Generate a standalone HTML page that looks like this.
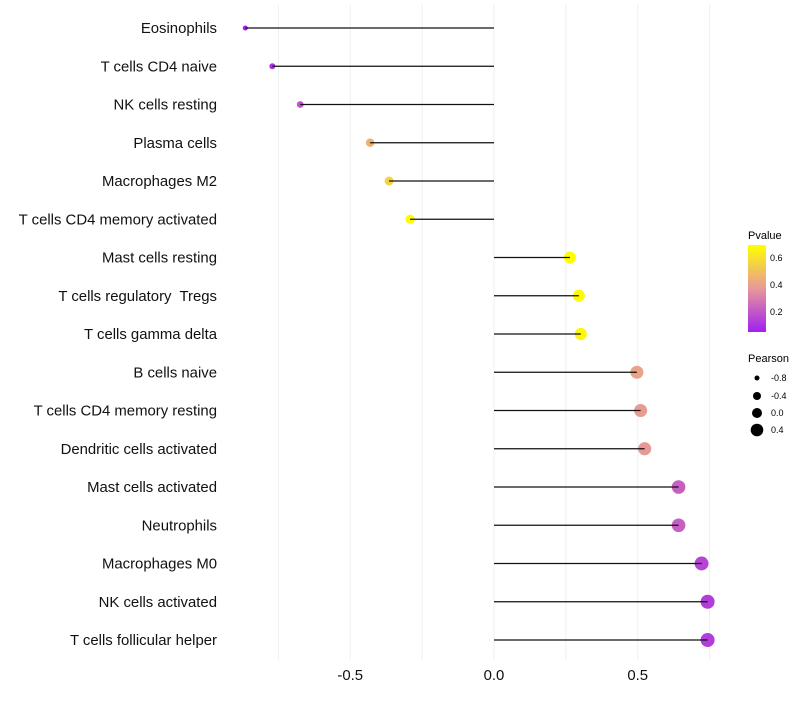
<!DOCTYPE html>
<html><head><meta charset="utf-8"><style>
body{margin:0;background:#fff;font-family:"Liberation Sans",sans-serif}
</style></head><body>
<svg id="chart" width="800" height="700" xmlns="http://www.w3.org/2000/svg" font-family="Liberation Sans, sans-serif">
<g id="grid"></g>
<g id="marks"></g>
<g id="ylabels"></g>
<g id="xlabels"></g>
<g>
<defs><linearGradient id="pg" x1="0" y1="1" x2="0" y2="0">
<stop offset="0" stop-color="#a020f0"/><stop offset="0.5" stop-color="#e8989a"/><stop offset="1" stop-color="#ffff00"/></linearGradient></defs>
<text x="748" y="239" font-size="11">Pvalue</text>
<rect x="748" y="245" width="18" height="87" fill="url(#pg)"/>
<text x="770" y="261" font-size="9">0.6</text>
<text x="770" y="288" font-size="9">0.4</text>
<text x="770" y="315" font-size="9">0.2</text>
<text x="748" y="362" font-size="11">Pearson</text>
<circle cx="757" cy="378" r="2.5" fill="#000"/>
<circle cx="757" cy="396" r="4" fill="#000"/>
<circle cx="757" cy="413" r="5" fill="#000"/>
<circle cx="757" cy="430" r="6.3" fill="#000"/>
<text x="771" y="381" font-size="9">-0.8</text>
<text x="771" y="399" font-size="9">-0.4</text>
<text x="771" y="416" font-size="9">0.0</text>
<text x="771" y="433" font-size="9">0.4</text>
</g>
</svg>
<script>
const categories=["Eosinophils","T cells CD4 naive","NK cells resting","Plasma cells","Macrophages M2","T cells CD4 memory activated","Mast cells resting","T cells regulatory  Tregs","T cells gamma delta","B cells naive","T cells CD4 memory resting","Dendritic cells activated","Mast cells activated","Neutrophils","Macrophages M0","NK cells activated","T cells follicular helper"];
const pearson=[-0.865,-0.771,-0.674,-0.431,-0.365,-0.292,0.264,0.295,0.302,0.497,0.51,0.524,0.642,0.642,0.722,0.743,0.743];
const pvalue=[0.06,0.1,0.2,0.45,0.55,0.68,0.68,0.67,0.66,0.4,0.38,0.37,0.22,0.22,0.15,0.13,0.13];
const xTicks=[-0.5,0,0.5];
const xTickLabels=["-0.5","0.0","0.5"];
const gridVals=[-0.75,-0.5,-0.25,0,0.25,0.5,0.75];
const NS="http://www.w3.org/2000/svg";
const x=v=>494+v*287.5;
const y=i=>28+i*38.25;
const rad=v=>Math.sqrt(Math.max(2.5,29.4+26.4*v));
function col(p){
 const stops=[[0.055,[160,32,240]],[0.37,[232,152,150]],[0.687,[255,255,0]]];
 if(p<=stops[0][0])return "rgb(160,32,240)";
 for(let k=0;k<2;k++){const a=stops[k],b=stops[k+1];if(p<=b[0]){const t=(p-a[0])/(b[0]-a[0]);return "rgb("+a[1].map((c,j)=>Math.round(c+(b[1][j]-c)*t)).join(",")+")";}}
 return "rgb(255,255,0)";
}
function mk(t,attrs,parent){const e=document.createElementNS(NS,t);for(const k in attrs)e.setAttribute(k,attrs[k]);parent.appendChild(e);return e;}
const grid=document.getElementById('grid');
gridVals.forEach(v=>{const l=mk('line',{x1:x(v),x2:x(v),y1:5,y2:660,stroke:'#efefef','stroke-width':1},grid);

});
const marks=document.getElementById('marks');
categories.forEach((c,i)=>{
 const cy=y(i);
 const ci=mk('circle',{cx:x(pearson[i]),cy:cy,r:rad(pearson[i]),fill:col(pvalue[i])},marks);
 
 
 const ln=mk('line',{x1:x(0),x2:x(pearson[i]),y1:cy,y2:cy,stroke:'#111','stroke-width':1.3},marks);
 
 
 const t=mk('text',{x:217,y:cy+5,'text-anchor':'end','font-size':14.9,fill:'#111',style:'white-space:pre'},document.getElementById('ylabels'));
 t.textContent=c;
 
 
});
xTicks.forEach((v,i)=>{const t=mk('text',{x:x(v),y:680,'text-anchor':'middle','font-size':14.9,fill:'#111'},document.getElementById('xlabels'));
t.textContent=xTickLabels[i];

});
</script>
</body></html>
